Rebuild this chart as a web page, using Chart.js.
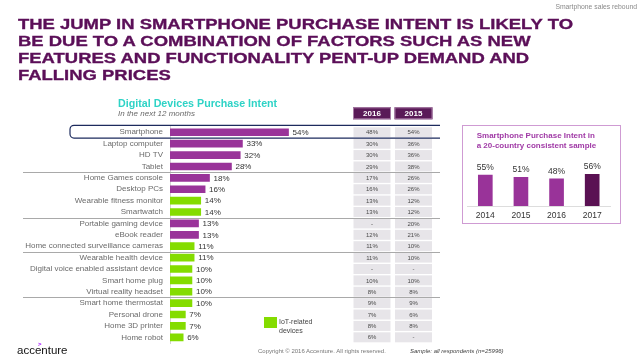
<!DOCTYPE html>
<html>
<head>
<meta charset="utf-8">
<script src="https://cdn.jsdelivr.net/npm/chart.js@4.4.1/dist/chart.umd.min.js"></script>
<style>
  html, body { margin: 0; padding: 0; background: #fff; }
  #wrap { position: relative; width: 640px; height: 360px; overflow: hidden; font-family: "Liberation Sans", Arial, sans-serif; }
  #main { position: absolute; left: 0; top: 0; }
  #inset { position: absolute; left: 462px; top: 125px; }
  #box { position: absolute; left: 462px; top: 125px; width: 159px; height: 99px; box-sizing: border-box; border: 1.4px solid #cf9bd3; }
  .t { position: absolute; white-space: nowrap; line-height: 1; }
  #title { position: absolute; left: 18px; top: 0; transform-origin: 0 0; color: #5b0f58; font-weight: bold; font-size: 15.4px; -webkit-text-stroke: 0.35px #5b0f58; }
  #title div { position: absolute; left: 0; white-space: nowrap; line-height: 1; }
</style>
</head>
<body>
<div id="wrap">
  <canvas id="main" width="640" height="360"></canvas>
  <div id="box"></div>
  <canvas id="inset" width="159" height="99"></canvas>

  <div class="t" style="right:3px; top:4px; font-size:6.8px; color:#8a8a8a;">Smartphone sales rebound</div>

  <div id="title">
    <div id="tl1" style="top:15.7px;"><span id="tl1s">THE JUMP IN SMARTPHONE PURCHASE INTENT IS LIKELY TO</span></div>
    <div style="top:32.7px;">BE DUE TO A COMBINATION OF FACTORS SUCH AS NEW</div>
    <div style="top:49.7px;">FEATURES AND FUNCTIONALITY PENT-UP DEMAND AND</div>
    <div style="top:66.7px;">FALLING PRICES</div>
  </div>

  <div class="t" style="left:118px; top:97.8px; font-size:10.7px; font-weight:bold; color:#2ed3c6;">Digital Devices Purchase Intent</div>
  <div class="t" style="left:118px; top:110.4px; font-size:8px; font-style:italic; color:#6a6a6a;">In the next 12 months</div>

  <div class="t" style="left:476.7px; top:131.7px; font-size:8px; font-weight:bold; color:#a03aa6;">Smartphone Purchase Intent in</div>
  <div class="t" style="left:476.7px; top:141.7px; font-size:8px; font-weight:bold; color:#a03aa6;">a 20-country consistent sample</div>

  <div style="position:absolute; left:264px; top:317px; width:13px; height:11px; background:#84dc00;"></div>
  <div class="t" style="left:279px; top:317.5px; font-size:7px; color:#444;">IoT-related</div>
  <div class="t" style="left:279px; top:326.5px; font-size:7px; color:#444;">devices</div>

  <div class="t" style="left:38px; top:341px; font-size:6px; font-weight:bold; color:#a100ff;">&gt;</div>
  <div class="t" style="left:17px; top:344.5px; font-size:11.5px; color:#111;">accenture</div>
  <div class="t" style="left:258px; top:348px; font-size:6px; color:#777;">Copyright © 2016 Accenture.  All rights reserved.</div>
  <div class="t" style="left:410px; top:348px; font-size:6px; font-style:italic; color:#444;">Sample: all respondents (n=25996)</div>
</div>

<script>
// Digital devices purchase intent, next 12 months
const devices = [
  'Smartphone', 'Laptop computer', 'HD TV', 'Tablet',
  'Home Games console', 'Desktop PCs', 'Wearable fitness monitor', 'Smartwatch',
  'Portable gaming device', 'eBook reader', 'Home connected surveillance cameras',
  'Wearable health device', 'Digital voice enabled assistant device', 'Smart home plug', 'Virtual reality headset',
  'Smart home thermostat', 'Personal drone', 'Home 3D printer', 'Home robot'
];
const intent2017 = [54, 33, 32, 28, 18, 16, 14, 14, 13, 13, 11, 11, 10, 10, 10, 10, 7, 7, 6];
const intent2016 = [48, 30, 30, 29, 17, 16, 13, 13, null, 12, 11, 11, null, 10, 8, 9, 7, 8, 6];
const intent2015 = [54, 36, 36, 38, 26, 26, 12, 12, 20, 21, 10, 10, null, 10, 8, 9, 6, 8, null];
const iotRelated = [false, false, false, false, false, false, true, true, false, false, true,
                    true, true, true, true, true, true, true, true];
const groupEnds = [3, 7, 10, 14];
const tableYears = ['2016', '2015'];

// Smartphone purchase intent, 20-country consistent sample
const insetYears = ['2014', '2015', '2016', '2017'];
const insetValues = [55, 51, 48, 56];

const PURPLE = '#993399';
const DARK = '#5a1153';
const GREEN = '#84dc00';

Chart.defaults.font.family = '"Liberation Sans", Arial, sans-serif';

// fit the title to the slide width
const t1 = document.getElementById('tl1s');
const sx = 555 / t1.getBoundingClientRect().width;
document.getElementById('title').style.transform = 'scaleX(' + sx + ')';

const valueLabels = {
  id: 'valueLabels',
  afterDatasetsDraw(chart) {
    const ctx = chart.ctx;
    const meta = chart.getDatasetMeta(0);
    ctx.save();
    ctx.font = '8px "Liberation Sans", Arial, sans-serif';
    ctx.fillStyle = '#333';
    ctx.textBaseline = 'middle';
    meta.data.forEach((bar, i) => {
      ctx.fillText(intent2017[i] + '%', bar.x + 4, bar.y + 0.5);
    });
    ctx.restore();
  }
};

const sideTable = {
  id: 'sideTable',
  afterDraw(chart) {
    const ctx = chart.ctx;
    const y = chart.scales.y;
    const cols = [372, 413.5];
    const series = [intent2016, intent2015];
    ctx.save();
    // headers
    ctx.font = 'bold 8px "Liberation Sans", Arial, sans-serif';
    ctx.textAlign = 'center';
    ctx.textBaseline = 'middle';
    cols.forEach((cx, c) => {
      ctx.fillStyle = '#5a1a58';
      ctx.fillRect(cx - 19, 107.3, 38, 12);
      ctx.strokeStyle = '#a77ba5';
      ctx.lineWidth = 1;
      ctx.strokeRect(cx - 19 + 0.5, 107.8, 37, 11);
      ctx.fillStyle = '#fff';
      ctx.fillText(tableYears[c], cx, 113.8);
    });
    // cells
    ctx.font = '6px "Liberation Sans", Arial, sans-serif';
    devices.forEach((d, i) => {
      const cy = y.getPixelForValue(i);
      cols.forEach((cx, c) => {
        ctx.fillStyle = '#e7e5e9';
        ctx.fillRect(cx - 18.5, cy - 5, 37, 10);
        ctx.fillStyle = '#4a4a4a';
        const v = series[c][i];
        ctx.fillText(v === null ? '-' : v + '%', cx, cy + 0.5);
      });
    });
    // group separators
    ctx.strokeStyle = '#a9a9a9';
    ctx.lineWidth = 1;
    groupEnds.forEach(i => {
      const ly = Math.round((y.getPixelForValue(i) + y.getPixelForValue(i + 1)) / 2) + 0.5;
      ctx.beginPath();
      ctx.moveTo(23, ly);
      ctx.lineTo(440, ly);
      ctx.stroke();
    });
    // highlight smartphone row
    const sy = y.getPixelForValue(0);
    const top = sy - 7, bot = sy + 5.8, r = 4;
    ctx.strokeStyle = '#1d2b5e';
    ctx.lineWidth = 1.2;
    ctx.beginPath();
    ctx.moveTo(440, top);
    ctx.lineTo(70 + r, top);
    ctx.arcTo(70, top, 70, top + r, r);
    ctx.lineTo(70, bot - r);
    ctx.arcTo(70, bot, 70 + r, bot, r);
    ctx.lineTo(440, bot);
    ctx.stroke();
    ctx.restore();
  }
};

new Chart(document.getElementById('main'), {
  type: 'bar',
  data: {
    labels: devices,
    datasets: [{
      data: intent2017,
      backgroundColor: iotRelated.map(f => f ? GREEN : PURPLE),
      barThickness: 7
    }]
  },
  options: {
    responsive: false,
    animation: false,
    indexAxis: 'y',
    layout: { padding: { left: 0, right: 250.5, top: 126.6, bottom: 17 } },
    plugins: { legend: { display: false }, tooltip: { enabled: false } },
    scales: {
      x: { display: false, min: 0, max: 100 },
      y: {
        afterFit: s => { s.width = 170; },
        grid: { display: false, drawTicks: false },
        border: { display: true, color: '#d4d4d4', width: 1 },
        ticks: { autoSkip: false, padding: 7, color: '#6b6b6b', font: { size: 8 } }
      }
    }
  },
  plugins: [valueLabels, sideTable]
});

const insetLabels = {
  id: 'insetLabels',
  afterDatasetsDraw(chart) {
    const ctx = chart.ctx;
    ctx.save();
    ctx.font = '8.5px "Liberation Sans", Arial, sans-serif';
    ctx.fillStyle = '#333';
    ctx.textAlign = 'center';
    ctx.textBaseline = 'alphabetic';
    chart.getDatasetMeta(0).data.forEach((bar, i) => {
      ctx.fillText(insetValues[i] + '%', bar.x, bar.y - 5);
    });
    ctx.restore();
  }
};

new Chart(document.getElementById('inset'), {
  type: 'bar',
  data: {
    labels: insetYears,
    datasets: [{
      data: insetValues,
      backgroundColor: [PURPLE, PURPLE, PURPLE, DARK],
      barThickness: 14
    }]
  },
  options: {
    responsive: false,
    animation: false,
    layout: { padding: { left: 5.5, right: 11, top: 24.6, bottom: 0 } },
    plugins: { legend: { display: false }, tooltip: { enabled: false } },
    scales: {
      x: {
        afterFit: s => { s.height = 18; },
        grid: { display: false, drawTicks: false },
        border: { display: true, color: '#dddddd', width: 1 },
        ticks: { padding: 5, color: '#333', font: { size: 8.5 } }
      },
      y: { display: false, min: 0, max: 100 }
    }
  },
  plugins: [insetLabels]
});
</script>
</body>
</html>
